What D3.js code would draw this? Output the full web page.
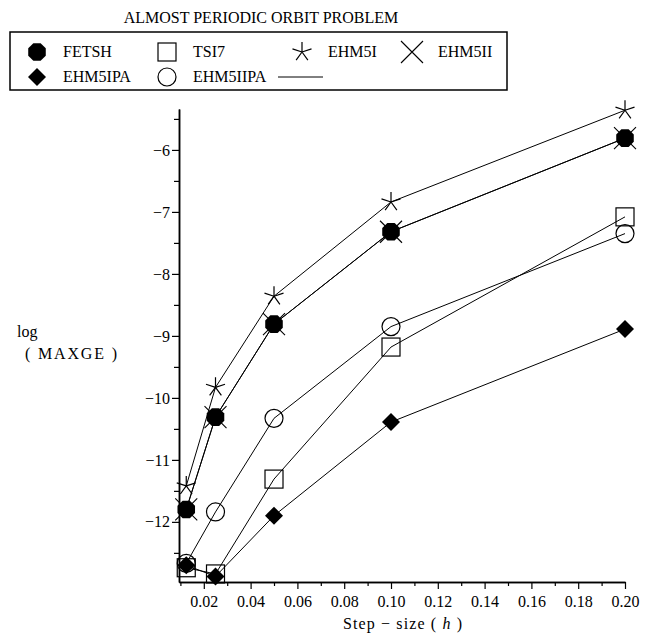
<!DOCTYPE html>
<html>
<head>
<meta charset="utf-8">
<script src="https://d3js.org/d3.v7.min.js"></script>
<style>
    body { margin: 0; background: #fff; }
</style>
</head>
<body>
<div id="graph"></div>
<script>
// Data
var stepSizes = [0.0125, 0.025, 0.05, 0.1, 0.2];
var fetsh    = [-11.80, -10.31, -8.81, -7.32, -5.81];
var tsi7     = [-12.74, -12.84, -11.31, -9.18, -7.08];
var ehm5i    = [-11.42, -9.83, -8.36, -6.84, -5.36];
var ehm5ii   = [-11.80, -10.31, -8.81, -7.32, -5.81];
var ehm5ipa  = [-12.70, -12.88, -11.90, -10.39, -8.89];
var ehm5iipa = [-12.67, -11.84, -10.33, -8.85, -7.35];

var xTickValues = [0.02, 0.04, 0.06, 0.08, 0.10, 0.12, 0.14, 0.16, 0.18, 0.20];
var xMinorValues = [0.01, 0.03, 0.05, 0.07, 0.09, 0.11, 0.13, 0.15, 0.17, 0.19];
var yTickValues = [-6, -7, -8, -9, -10, -11, -12];
var yMinorValues = [-5.5, -6.5, -7.5, -8.5, -9.5, -10.5, -11.5, -12.5];

var seriesNames = ["FETSH", "TSI7", "EHM5I", "EHM5II", "EHM5IPA", "EHM5IIPA"];
var seriesValues = [fetsh, tsi7, ehm5i, ehm5ii, ehm5ipa, ehm5iipa];
var seriesSymbols = ["octagon", "square", "star", "cross", "diamond", "circle"];

// Canvas Info
var CanvasInfo = { width: 655, height: 641, id: "#graph" };

// Plot area
var PlotInfo = { left: 179, right: 625, top: 109, bottom: 582 };

var FONT = "'Liberation Serif', 'DejaVu Serif', serif";

var svg = d3.select(CanvasInfo.id)
            .append("svg")
            .attr("width", CanvasInfo.width)
            .attr("height", CanvasInfo.height)
            .style("font-family", FONT);

var xScale = d3.scaleLinear().domain([0.0094, 0.2]).range([PlotInfo.left, PlotInfo.right]);
var yScale = d3.scaleLinear().domain([-12.97, -5.34]).range([PlotInfo.bottom, PlotInfo.top]);

/**
 * Draw a marker symbol at a point
 */
function DrawSymbol(group, kind, cx, cy)
{
    var g = group.append("g").attr("transform", "translate(" + cx + "," + cy + ")");
    if (kind === "octagon")
    {
        var pts = d3.range(8).map(function(i) {
            var a = Math.PI / 8 + i * Math.PI / 4;
            return [9.5 * Math.cos(a), 9.5 * Math.sin(a)];
        });
        g.append("polygon").attr("points", pts.join(" ")).attr("fill", "#000");
    }
    else if (kind === "square")
    {
        g.append("rect").attr("x", -9).attr("y", -9).attr("width", 18).attr("height", 18)
         .attr("fill", "none").attr("stroke", "#000").attr("stroke-width", 1.2);
    }
    else if (kind === "circle")
    {
        g.append("circle").attr("r", 9).attr("fill", "none")
         .attr("stroke", "#000").attr("stroke-width", 1.2);
    }
    else if (kind === "diamond")
    {
        g.append("polygon").attr("points", "0,-9 9,0 0,9 -9,0").attr("fill", "#000");
    }
    else if (kind === "cross")
    {
        g.append("path").attr("d", "M-11,-11L11,11M-11,11L11,-11")
         .attr("stroke", "#000").attr("stroke-width", 1.1);
    }
    else if (kind === "star")
    {
        var d = "";
        for (var i = 0; i < 5; i++)
        {
            var a = -Math.PI / 2 + i * 2 * Math.PI / 5;
            d += "M0,0L" + (10 * Math.cos(a)) + "," + (10 * Math.sin(a));
        }
        g.append("path").attr("d", d).attr("stroke", "#000").attr("stroke-width", 1.2);
    }
}

/**
 * Add a serif text element
 */
function AddText(x, y, str, anchor)
{
    return svg.append("text")
              .attr("x", x).attr("y", y)
              .attr("text-anchor", anchor || "start")
              .attr("font-family", FONT)
              .attr("font-size", 16)
              .attr("fill", "#000")
              .text(str);
}

// Title
AddText(261, 23, "ALMOST PERIODIC ORBIT PROBLEM", "middle");

// Legend
var legend = svg.append("g");
legend.append("rect")
      .attr("x", 10).attr("y", 32).attr("width", 497).attr("height", 58)
      .attr("fill", "none").attr("stroke", "#000").attr("stroke-width", 1.5);

var legendPos = [[37, 52], [167, 52], [302, 52], [412, 52], [37, 77], [167, 77]];
for (var li = 0; li < seriesNames.length; li++)
{
    DrawSymbol(legend, seriesSymbols[li], legendPos[li][0], legendPos[li][1]);
    AddText(legendPos[li][0] + 26, legendPos[li][1] + 5, seriesNames[li]);
}
legend.append("line")
      .attr("x1", 278).attr("x2", 323).attr("y1", 77).attr("y2", 77)
      .attr("stroke", "#000").attr("stroke-width", 1);

// Axes
var xAxis = svg.append("g").attr("transform", "translate(0," + PlotInfo.bottom + ")");
xAxis.call(d3.axisBottom(xScale).tickValues(xTickValues).tickSize(7).tickSizeOuter(0)
             .tickFormat(d3.format(".2f")));
xAxis.append("g").call(d3.axisBottom(xScale).tickValues(xMinorValues).tickSize(4)
                         .tickSizeOuter(0).tickFormat(""));

var yAxis = svg.append("g").attr("transform", "translate(" + PlotInfo.left + ",0)");
yAxis.call(d3.axisLeft(yScale).tickValues(yTickValues).tickSize(7).tickSizeOuter(0)
             .tickFormat(function(v) { return "\u2212" + Math.abs(v); }));
yAxis.append("g").call(d3.axisLeft(yScale).tickValues(yMinorValues).tickSize(5)
                         .tickSizeOuter(0).tickFormat(""));

svg.selectAll("g").attr("font-family", FONT);
svg.selectAll(".domain").attr("stroke", "#000").attr("stroke-width", 1.5);
svg.selectAll(".tick line").attr("stroke", "#000").attr("stroke-width", 1.2);
svg.selectAll(".tick text")
   .attr("font-family", FONT)
   .attr("font-size", 16)
   .attr("fill", "#000");
xAxis.selectAll(".tick text").attr("dy", "0.95em");
yAxis.selectAll(".tick text").attr("x", -9);

// Axis labels
var xLabel = AddText(343, 629, "", "start")
   .attr("textLength", 119)
   .attr("lengthAdjust", "spacing");
xLabel.append("tspan").text("Step \u2212 size ( ");
xLabel.append("tspan").attr("font-style", "italic").text("h");
xLabel.append("tspan").text(" )");

AddText(17, 337, "log");
AddText(25, 359, "( MAXGE )").attr("textLength", 92).attr("lengthAdjust", "spacing");

// Lines and markers
var line = d3.line()
             .x(function(d, i) { return xScale(stepSizes[i]); })
             .y(function(d) { return yScale(d); });

var plot = svg.append("g");
for (var si = 0; si < seriesValues.length; si++)
{
    plot.append("path")
        .datum(seriesValues[si])
        .attr("d", line)
        .attr("fill", "none")
        .attr("stroke", "#000")
        .attr("stroke-width", 1);
}
for (var sj = 0; sj < seriesValues.length; sj++)
{
    seriesValues[sj].forEach(function(v, i) {
        DrawSymbol(plot, seriesSymbols[sj], xScale(stepSizes[i]), yScale(v));
    });
}
</script>
</body>
</html>
